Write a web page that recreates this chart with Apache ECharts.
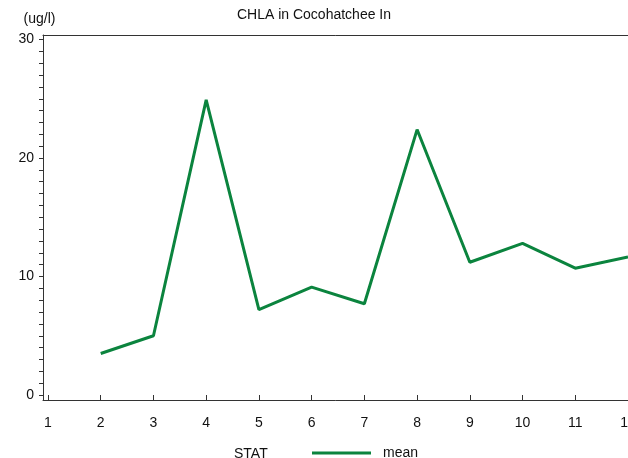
<html>
<head>
    <meta charset="utf-8">
    <title>CHLA</title>
    <script src="https://cdn.jsdelivr.net/npm/echarts@6/dist/echarts.min.js"></script>
    <style>
        html, body { margin: 0; padding: 0; background: #fff; }
        #main { width: 628px; height: 458px; }
    </style>
</head>
<body>
    <div id="main"></div>
    <script type="text/javascript">
        // data
        var months = [1, 2, 3, 4, 5, 6, 7, 8, 9, 10, 11, 12];
        var meanValues = [null, 3.5, 5.0, 24.9, 7.2, 9.1, 7.7, 22.4, 11.2, 12.8, 10.7, 11.65];
        var yTicks = [0, 10, 20, 30];

        var green = '#0b843e';
        var font = 'Arial, "Liberation Sans", Helvetica, sans-serif';

        var points = [];
        for (var i = 0; i < months.length; i++) {
            if (meanValues[i] !== null) points.push([months[i], meanValues[i]]);
        }

        var myChart = echarts.init(document.getElementById('main'), null, { renderer: 'canvas' });

        var option = {
            animation: false,
            title: [
                {
                    text: 'CHLA in Cocohatchee In',
                    left: 'center',
                    top: 3,
                    textStyle: { fontFamily: font, fontSize: 14, fontWeight: 'normal', color: '#111' }
                },
                {
                    text: 'STAT',
                    left: 229,
                    top: 442,
                    textStyle: { fontFamily: font, fontSize: 14, fontWeight: 'normal', color: '#111' }
                }
            ],
            legend: {
                left: 307,
                top: 441,
                icon: 'rect',
                itemWidth: 59,
                itemHeight: 3,
                textStyle: { fontFamily: font, fontSize: 14, color: '#111', padding: [0, 0, 0, 7] },
                data: ['mean']
            },
            grid: [
                // frame
                { left: 43, right: -20, top: 35, bottom: 58, outerBoundsMode: 'none' },
                // data area
                { left: 48, right: 0, top: 39.5, bottom: 63, outerBoundsMode: 'none' }
            ],
            xAxis: [
                {
                    gridIndex: 0, type: 'value', min: 0, max: 1,
                    axisLine: { show: true, lineStyle: { color: '#333', width: 1 } },
                    axisTick: { show: false }, axisLabel: { show: false }, splitLine: { show: false }
                },
                {
                    gridIndex: 0, type: 'value', position: 'top', min: 0, max: 1,
                    axisLine: { show: true, lineStyle: { color: '#333', width: 1 } },
                    axisTick: { show: false }, axisLabel: { show: false }, splitLine: { show: false }
                },
                {
                    gridIndex: 1, type: 'value', min: 1, max: 12, interval: 1, offset: 5,
                    axisLine: { show: false },
                    axisTick: { show: true, length: 6, lineStyle: { color: '#333' } },
                    axisLabel: { margin: 16, fontFamily: font, fontSize: 14, color: '#111', showMaxLabel: true },
                    splitLine: { show: false }
                }
            ],
            yAxis: [
                {
                    gridIndex: 0, type: 'value', min: 0, max: 1,
                    axisLine: { show: true, lineStyle: { color: '#333', width: 1 } },
                    axisTick: { show: false }, axisLabel: { show: false }, splitLine: { show: false }
                },
                {
                    gridIndex: 1, type: 'value', min: yTicks[0], max: yTicks[yTicks.length - 1], interval: 10, offset: 5,
                    name: '(ug/l)',
                    nameLocation: 'end',
                    nameGap: 13,
                    nameTextStyle: { fontFamily: font, fontSize: 14, color: '#111', align: 'center', padding: [0, 7, 0, 0] },
                    axisLine: { show: false },
                    axisTick: { show: true, length: 4, lineStyle: { color: '#333' } },
                    minorTick: { show: true, splitNumber: 10, length: 4, lineStyle: { color: '#333' } },
                    axisLabel: { margin: 9, fontFamily: font, fontSize: 14, color: '#111' },
                    splitLine: { show: false }
                }
            ],
            series: [
                {
                    name: 'mean',
                    type: 'line',
                    xAxisIndex: 2,
                    yAxisIndex: 1,
                    data: points,
                    showSymbol: false,
                    symbol: 'none',
                    lineStyle: { color: green, width: 3 },
                    itemStyle: { color: green }
                }
            ]
        };
        myChart.setOption(option);
    </script>
</body>
</html>
